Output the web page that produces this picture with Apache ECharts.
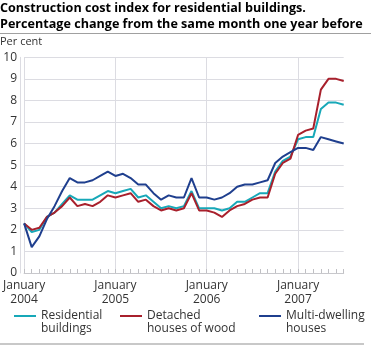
<!DOCTYPE html>
<html>
<head>
<meta charset="utf-8">
<script src="https://cdn.jsdelivr.net/npm/echarts@6/dist/echarts.min.js"></script>
<style>
  html, body { margin: 0; padding: 0; background: #fff; }
  #chart { width: 371px; height: 346px; }
</style>
</head>
<body>
<div id="chart"></div>
<script>
// Monthly observations, January 2004 – July 2007
const months = [];
for (let y = 2004; y <= 2007; y++) {
  for (let m = 1; m <= 12; m++) {
    if (y === 2007 && m > 7) break;
    months.push(y + '-' + String(m).padStart(2, '0'));
  }
}

// Percentage change from the same month one year before
const residential = [
  2.3, 1.9, 2.0, 2.6, 2.8, 3.2, 3.6, 3.4, 3.4, 3.4, 3.6, 3.8,
  3.7, 3.8, 3.9, 3.5, 3.6, 3.3, 3.0, 3.1, 3.0, 3.1, 3.8, 3.0,
  3.0, 3.0, 2.9, 3.0, 3.3, 3.3, 3.5, 3.7, 3.7, 4.7, 5.2, 5.4,
  6.2, 6.3, 6.3, 7.6, 7.9, 7.9, 7.8
];
const detached = [
  2.3, 2.0, 2.1, 2.6, 2.8, 3.1, 3.5, 3.1, 3.2, 3.1, 3.3, 3.6,
  3.5, 3.6, 3.7, 3.3, 3.4, 3.1, 2.9, 3.0, 2.9, 3.0, 3.7, 2.9,
  2.9, 2.8, 2.6, 2.9, 3.1, 3.2, 3.4, 3.5, 3.5, 4.6, 5.1, 5.3,
  6.4, 6.6, 6.7, 8.5, 9.0, 9.0, 8.9
];
const multiDwelling = [
  2.3, 1.2, 1.7, 2.5, 3.1, 3.8, 4.4, 4.2, 4.2, 4.3, 4.5, 4.7,
  4.5, 4.6, 4.4, 4.1, 4.1, 3.7, 3.4, 3.6, 3.5, 3.5, 4.4, 3.5,
  3.5, 3.4, 3.5, 3.7, 4.0, 4.1, 4.1, 4.2, 4.3, 5.1, 5.4, 5.6,
  5.8, 5.8, 5.7, 6.3, 6.2, 6.1, 6.0
];

const seriesNames = ['Residential\nbuildings', 'Detached\nhouses of wood', 'Multi-dwelling\nhouses'];
const seriesColors = ['#17a8b8', '#a8202c', '#1f3f8e'];
const seriesData = [residential, detached, multiDwelling];

const FONT = '"Open Sans", "Noto Sans", sans-serif';
const GRID_COLOR = '#dcdce2';

const chart = echarts.init(document.getElementById('chart'), null, { renderer: 'canvas' });

// one legend block per series; a leading blank line keeps the icon level with the first text line
const legendPos = [14, 120, 259];
const legends = seriesNames.map((name, i) => ({
  data: [name],
  left: legendPos[i],
  top: 296.5,
  padding: 0,
  orient: 'horizontal',
  itemWidth: 22,
  itemHeight: 12,
  itemGap: 0,
  icon: 'path://M0,5 L22,5 L22,7 L0,7 Z',
  selectedMode: false,
  formatter: (n) => '\n' + n,
  textStyle: {
    fontFamily: FONT,
    fontSize: 12,
    color: '#333',
    lineHeight: 13
  }
}));

chart.setOption({
  animation: false,
  textStyle: { fontFamily: FONT },
  title: [
    {
      text: 'Construction cost index for residential buildings.\nPercentage change from the same month one year before',
      left: 0,
      top: 1,
      padding: 0,
      textStyle: { fontFamily: FONT, fontSize: 12.6, fontWeight: 'bold', color: '#000', lineHeight: 15.5 }
    },
    {
      text: 'Per cent',
      left: 0,
      top: 36,
      padding: 0,
      textStyle: { fontFamily: FONT, fontSize: 11, fontWeight: 'normal', color: '#333' }
    }
  ],
  graphic: [
    { type: 'line', shape: { x1: 0, y1: 33.5, x2: 371, y2: 33.5 }, style: { stroke: '#a0a0a0', lineWidth: 1 } },
    { type: 'line', shape: { x1: 0, y1: 344, x2: 364, y2: 344 }, style: { stroke: '#c8c8c8', lineWidth: 2 } }
  ],
  legend: legends,
  grid: { left: 20.5, right: 27.3, top: 57.3, bottom: 73, containLabel: false },
  xAxis: {
    type: 'category',
    data: months,
    boundaryGap: false,
    axisLine: { show: true, lineStyle: { color: '#c8c8cc', width: 1 } },
    axisTick: {
      show: true,
      inside: true,
      length: 4,
      interval: 0,
      lineStyle: { color: '#c0c0c4' }
    },
    axisLabel: {
      interval: (i) => i % 12 === 0,
      formatter: (v, i) => 'January\n' + (2004 + Math.floor(i / 12)),
      fontFamily: FONT,
      fontSize: 12,
      color: '#333',
      lineHeight: 14,
      margin: 6
    },
    splitLine: {
      show: true,
      interval: (i) => i % 12 === 0,
      lineStyle: { color: GRID_COLOR, width: 1 }
    }
  },
  yAxis: {
    type: 'value',
    min: 0,
    max: 10,
    interval: 1,
    offset: 4,
    axisLine: { show: true, lineStyle: { color: GRID_COLOR, width: 1 } },
    axisTick: { show: false },
    axisLabel: { fontFamily: FONT, fontSize: 12, color: '#333', margin: 3 },
    splitLine: { show: true, lineStyle: { color: GRID_COLOR, width: 1 } }
  },
  series: seriesNames.map((name, i) => ({
    name: name,
    type: 'line',
    data: seriesData[i],
    symbol: 'none',
    smooth: false,
    lineStyle: { color: seriesColors[i], width: 2 },
    itemStyle: { color: seriesColors[i] },
    z: 2 + i
  }))
});
</script>
</body>
</html>
